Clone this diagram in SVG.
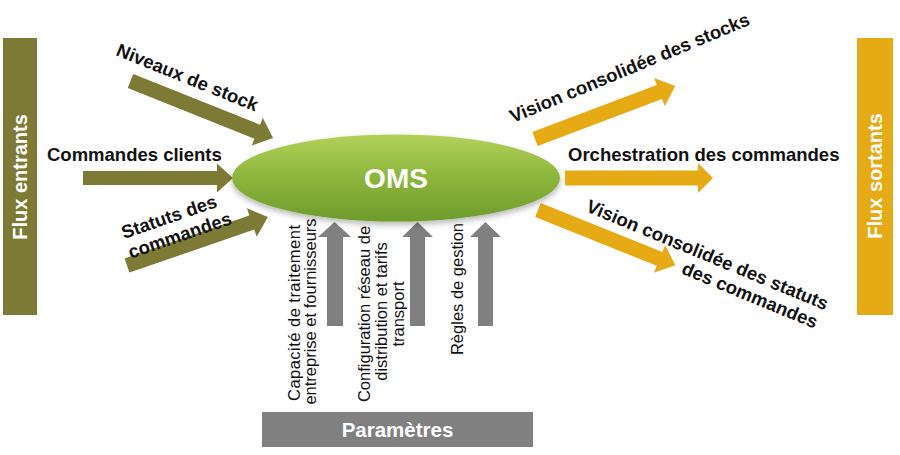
<svg xmlns="http://www.w3.org/2000/svg" width="900" height="455" viewBox="0 0 900 455">
  <defs>
    <linearGradient id="omsGrad" x1="0" y1="0" x2="0" y2="1">
      <stop offset="0" stop-color="#b3d15a"/>
      <stop offset="0.45" stop-color="#8fb83e"/>
      <stop offset="1" stop-color="#6e9c2b"/>
    </linearGradient>
    <filter id="soft" x="-10%" y="-20%" width="120%" height="150%">
      <feGaussianBlur in="SourceAlpha" stdDeviation="3"/>
      <feOffset dx="0" dy="3" result="b"/>
      <feComponentTransfer><feFuncA type="linear" slope="0.3"/></feComponentTransfer>
      <feMerge><feMergeNode/><feMergeNode in="SourceGraphic"/></feMerge>
    </filter>
  </defs>
  <style>
    .olive { fill: #7d7a36; }
    .orange { fill: #e6aa14; }
    .gray { fill: #808080; }
    .lbl { font-family: "Liberation Sans", Arial, sans-serif; font-weight: bold; font-size: 18.5px; fill: #111111; }
    .bar { font-family: "Liberation Sans", Arial, sans-serif; font-weight: bold; font-size: 20px; fill: #ffffff; }
    .param { font-family: "Liberation Sans", Arial, sans-serif; font-size: 16.5px; fill: #111111; }
  </style>

  <g id="flux-entrants">
    <rect class="olive" x="3" y="38" width="34" height="277"/>
    <text class="bar" transform="translate(27,177) rotate(-90)" text-anchor="middle">Flux entrants</text>
  </g>

  <g id="flux-sortants">
    <rect class="orange" x="857" y="38" width="36" height="277"/>
    <text class="bar" transform="translate(882,176) rotate(-90)" text-anchor="middle">Flux sortants</text>
  </g>

  <g id="connectors">
    <path class="olive" transform="translate(130.5,81) rotate(21.8)" d="M0,-7.5 H136.5 V-15 L153.5,0 L136.5,15 V7.5 H0 Z"/>
    <path class="olive" d="M83,171 H217 V163.5 L233,178 L217,192.5 V185 H83 Z"/>
    <path class="olive" transform="translate(127,265.5) rotate(-19)" d="M0,-7.5 H132 V-15 L149,0 L132,15 V7.5 H0 Z"/>
    <path class="orange" transform="translate(535,139) rotate(-20.7)" d="M0,-7.5 H133 V-15 L150,0 L133,15 V7.5 H0 Z"/>
    <path class="orange" d="M565,170.5 H698 V163 L713,178 L698,193 V185.5 H565 Z"/>
    <path class="orange" transform="translate(538,210) rotate(21.9)" d="M0,-7.5 H131 V-15 L148,0 L131,15 V7.5 H0 Z"/>
    <path class="gray" d="M327,326 V237 H318 L334.5,222 L351,237 H343 V326 Z"/>
    <path class="gray" d="M410,326 V237 H402 L417.5,222 L433,237 H425 V326 Z"/>
    <path class="gray" d="M478,326 V237 H470 L485.5,222 L501,237 H493 V326 Z"/>
  </g>

  <g id="oms">
    <ellipse cx="396" cy="178" rx="164" ry="43.5" fill="url(#omsGrad)" filter="url(#soft)"/>
    <text x="396" y="188" text-anchor="middle" font-family="Liberation Sans, Arial, sans-serif" font-weight="bold" font-size="28" fill="#ffffff">OMS</text>
  </g>

  <g id="label-niveaux">
    <text class="lbl" transform="translate(115,55) rotate(22)">Niveaux de stock</text>
  </g>
  <g id="label-commandes-clients">
    <text class="lbl" x="47" y="161">Commandes clients</text>
  </g>
  <g id="label-statuts">
    <text class="lbl" transform="translate(124,239) rotate(-19)">
      <tspan x="0" y="0">Statuts des</tspan>
      <tspan x="0" y="21">commandes</tspan>
    </text>
  </g>

  <g id="label-vision-stocks">
    <text class="lbl" transform="translate(513,123) rotate(-22.5)">Vision consolidée des stocks</text>
  </g>
  <g id="label-orchestration">
    <text class="lbl" x="568" y="161">Orchestration des commandes</text>
  </g>
  <g id="label-vision-statuts">
    <text class="lbl" transform="translate(585,211) rotate(22.5)">
      <tspan x="0" y="0">Vision consolidée des statuts</tspan>
      <tspan x="257" y="21" text-anchor="end">des commandes</tspan>
    </text>
  </g>

  <g id="param-capacite">
    <text class="param" transform="translate(300,313) rotate(-90)" text-anchor="middle" textLength="176" lengthAdjust="spacing">Capacité de traitement</text>
    <text class="param" transform="translate(316,311.5) rotate(-90)" text-anchor="middle">entreprise et fournisseurs</text>
  </g>
  <g id="param-configuration">
    <text class="param" transform="translate(370,314) rotate(-90)" text-anchor="middle">Configuration réseau de</text>
    <text class="param" transform="translate(387,311.5) rotate(-90)" text-anchor="middle">distribution et tarifs</text>
    <text class="param" transform="translate(404,314) rotate(-90)" text-anchor="middle">transport</text>
  </g>
  <g id="param-regles">
    <text class="param" transform="translate(463,289) rotate(-90)" text-anchor="middle">Règles de gestion</text>
  </g>

  <g id="parametres">
    <rect class="gray" x="262" y="412" width="271" height="35"/>
    <text x="397.5" y="437" text-anchor="middle" font-family="Liberation Sans, Arial, sans-serif" font-weight="bold" font-size="20.5" fill="#ffffff">Paramètres</text>
  </g>
</svg>
